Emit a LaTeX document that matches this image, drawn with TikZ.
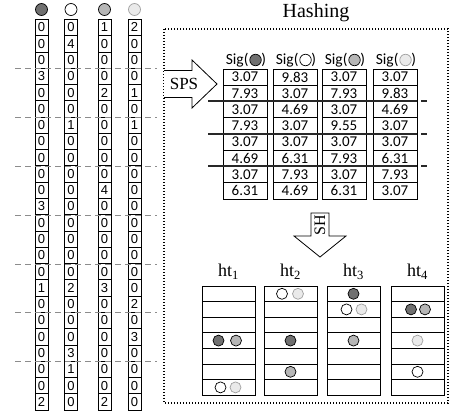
\documentclass[tikz,border=0pt]{standalone}
\usepackage{fontspec}
\setmainfont{Liberation Serif}
\newfontfamily\cellfont{Liberation Sans}
\newfontfamily\sigfont{Carlito}
\usetikzlibrary{positioning}
\definecolor{toneA}{RGB}{112,112,112}
\definecolor{toneC}{RGB}{182,182,182}
\definecolor{toneD}{RGB}{234,234,234}
\definecolor{rimD}{RGB}{160,160,160}
\definecolor{cutgray}{RGB}{140,140,140}
\definecolor{bandgray}{RGB}{40,40,40}
\tikzset{
  bit/.style={draw,minimum width=13pt,minimum height=16.28pt,inner sep=0pt,
    font=\cellfont\fontsize{13}{13}\selectfont},
  sigcell/.style={draw,minimum width=44pt,minimum height=16.25pt,inner sep=0pt,
    font=\sigfont\fontsize{15}{15}\selectfont},
  sigtxt/.style={inner sep=0pt,font=\sigfont\fontsize{15.5}{15.5}\selectfont},
  slot/.style={draw,minimum width=53pt,minimum height=15.6pt,inner sep=0pt},
  dot/.style={circle,draw,inner sep=0pt,minimum size=11pt},
  grpcut/.style={cutgray,dash pattern=on 6pt off 4pt},
  band/.style={bandgray,line width=2pt,dash pattern=on 209pt off 4pt on 6pt off 20pt},
  frame/.style={line width=1.6pt,dash pattern=on 1.4pt off 1.6pt},
  blockarrow/.style={draw,fill=white,line width=0.8pt}
}
\begin{document}
\begin{tikzpicture}[x=1pt,y=-1pt,line width=0.7pt]
\useasboundingbox (0,0) rectangle (453,414);
% signal columns
\foreach \c/\x/\fillc/\rimc/\vals in {
  1/41.5/toneA/black/{0,0,0,3,0,0,0,0,0,0,0,3,0,0,0,0,1,0,0,0,0,0,0,2},
  2/71/white/black/{0,4,0,0,0,0,1,0,0,0,0,0,0,0,0,0,2,0,0,0,3,1,0,0},
  3/104.5/toneC/black/{1,0,0,0,2,0,0,0,0,0,4,0,0,0,0,0,3,0,0,0,0,0,0,2},
  4/134.5/toneD/rimD/{2,0,0,0,1,0,1,0,0,0,0,0,0,0,0,0,0,2,0,3,0,0,0,0}}{
  \node[dot,fill=\fillc,draw=\rimc,minimum size=12pt] (top\c) at (\x,9.5) {};
  \foreach \v [count=\r] in \vals
    \node[bit] (c\c-\r) at (\x,{19.3+16.28*(\r-0.5)}) {\v};
}
\foreach \g in {1,...,7}
  \draw[grpcut] (15,{19.8+48.84*\g}) -- (157,{19.8+48.84*\g});
% hashing frame
\draw[frame] (164,29) rectangle (448,403);
\node[font=\fontsize{20}{20}\selectfont] (title) at (316,13) {Hashing};
% SPS arrow
\draw[blockarrow] (164,70.5) -- (192,70.5) -- (192,60) -- (217,84) -- (192,108) -- (192,97.5) -- (164,97.5);
\node[font=\fontsize{17}{17}\selectfont] (sps) at (184,84) {SPS};
% signatures
\foreach \c/\x/\fillc/\rimc/\vals in {
  1/223/toneA/black/{3.07,7.93,3.07,7.93,3.07,4.69,3.07,6.31},
  2/273/white/black/{9.83,3.07,4.69,3.07,3.07,6.31,7.93,4.69},
  3/322/toneC/black/{3.07,7.93,3.07,9.55,3.07,7.93,3.07,6.31},
  4/373/toneD/rimD/{3.07,9.83,4.69,3.07,3.07,6.31,7.93,3.07}}{
  \node[sigtxt] (hd\c) at ({\x+23},60) {Sig(\hspace{13pt})};
  \node[dot,fill=\fillc,draw=\rimc,minimum size=11.5pt,xshift=-11pt] (hc\c) at (hd\c.east) {};
  \foreach \v [count=\r] in \vals
    \node[sigcell] (s\c-\r) at ({\x+22},{69+16.25*(\r-0.5)}) {\v};
}
\foreach \y in {101.5,134,166.5}
  \draw[band] (208,\y) -- (427,\y);
% SH arrow
\draw[blockarrow] (311,213) -- (329,213) -- (329,236) -- (346,236) -- (320,257) -- (294,236) -- (311,236) -- cycle;
\node[rotate=90,font=\fontsize{16}{16}\selectfont] (sh) at (320,225) {SH};
% hash tables
\foreach \t/\x in {1/202,2/264,3/327,4/391}{
  \node[font=\fontsize{18}{18}\selectfont] (ht\t) at ({\x+26.5},272) {ht\textsubscript{\t}};
  \foreach \r in {1,...,7}
    \node[slot] (t\t-\r) at ({\x+26.5},{286+15.6*(\r-0.5)}) {};
}
\node[dot,fill=toneA,xshift=-10pt] (e1a) at (t1-4) {};
\node[dot,fill=toneC,xshift=7.5pt] (e1b) at (t1-4) {};
\node[dot,fill=white,xshift=-8pt] (e1c) at (t1-7) {};
\node[dot,fill=toneD,draw=rimD,xshift=7pt] (e1d) at (t1-7) {};
\node[dot,fill=white,xshift=-8.5pt] (e2a) at (t2-1) {};
\node[dot,fill=toneD,draw=rimD,xshift=7.5pt] (e2b) at (t2-1) {};
\node[dot,fill=toneA] (e2c) at (t2-4) {};
\node[dot,fill=toneC] (e2d) at (t2-6) {};
\node[dot,fill=toneA] (e3a) at (t3-1) {};
\node[dot,fill=white,xshift=-7pt] (e3b) at (t3-2) {};
\node[dot,fill=toneD,draw=rimD,xshift=8pt] (e3c) at (t3-2) {};
\node[dot,fill=toneC] (e3d) at (t3-4) {};
\node[dot,fill=toneA,xshift=-6.5pt] (e4a) at (t4-2) {};
\node[dot,fill=toneC,xshift=7.5pt] (e4b) at (t4-2) {};
\node[dot,fill=toneD,draw=rimD] (e4c) at (t4-4) {};
\node[dot,fill=white] (e4d) at (t4-6) {};
\end{tikzpicture}
\end{document}
